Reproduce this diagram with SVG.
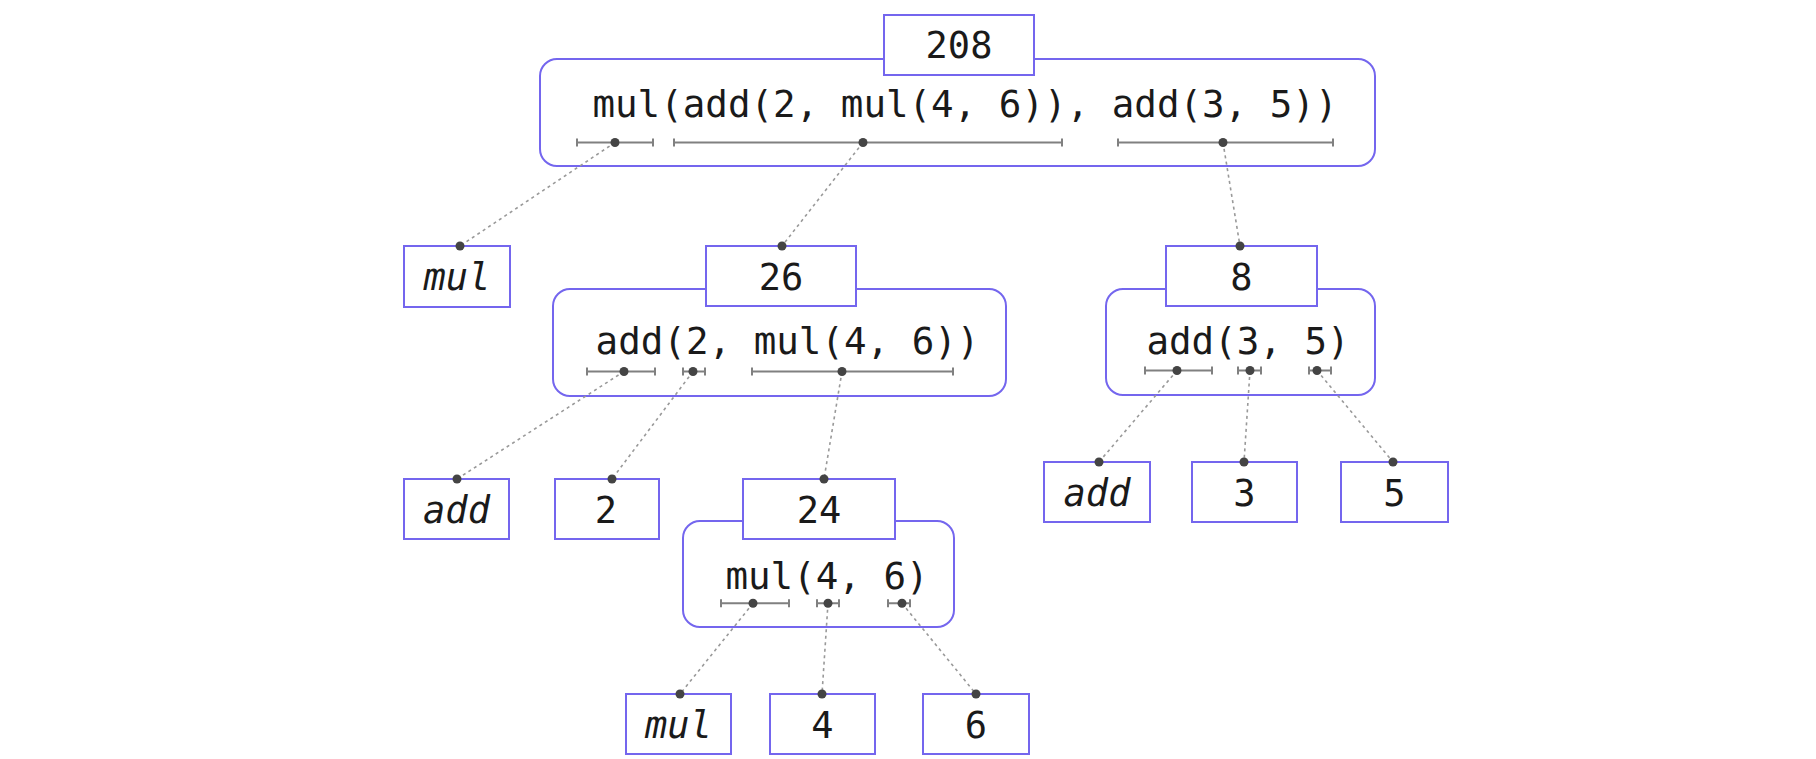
<svg xmlns="http://www.w3.org/2000/svg" width="1816" height="759" viewBox="0 0 1816 759">
<style>
  .frame { fill: none; stroke: #7466ee; stroke-width: 2; }
  .box { fill: #ffffff; stroke: #7466ee; stroke-width: 2; }
  .expr { font-family: "DejaVu Sans Mono", monospace; font-size: 37.5px; fill: #1a1a1a; text-anchor: middle; }
  .val { font-family: "DejaVu Sans Mono", monospace; font-size: 37px; fill: #1a1a1a; text-anchor: middle; }
  .op { font-style: italic; }
  .span { stroke: #808080; stroke-width: 2; fill: none; }
  .dot { fill: #444444; }
  .conn { stroke: #999999; stroke-width: 1.6; stroke-dasharray: 3 3.5; fill: none; }
</style>
<rect width="1816" height="759" fill="#ffffff"/>

<g id="node-208">
  <rect class="frame" x="540" y="59" width="835" height="107" rx="17"/>
  <rect class="box" x="884" y="15" width="150" height="60"/>
  <text class="val" x="959" y="58">208</text>
  <text class="expr" x="965" y="117">mul(add(2, mul(4, 6)), add(3, 5))</text>
  <path class="span" d="M577 142.5H653M577 138.5V146.5M653 138.5V146.5"/>
  <path class="span" d="M674 142.5H1062M674 138.5V146.5M1062 138.5V146.5"/>
  <path class="span" d="M1118 142.5H1333M1118 138.5V146.5M1333 138.5V146.5"/>
</g>

<g id="leaf-mul-1">
  <rect class="box" x="404" y="246" width="106" height="61"/>
  <text class="val op" x="457" y="290">mul</text>
</g>

<g id="node-26">
  <rect class="frame" x="553" y="289" width="453" height="107" rx="17"/>
  <rect class="box" x="706" y="246" width="150" height="60"/>
  <text class="val" x="781" y="290">26</text>
  <text class="expr" x="787.5" y="354">add(2, mul(4, 6))</text>
  <path class="span" d="M587 371.5H655M587 367.5V375.5M655 367.5V375.5"/>
  <path class="span" d="M683 371.5H705M683 367.5V375.5M705 367.5V375.5"/>
  <path class="span" d="M752 371.5H953M752 367.5V375.5M953 367.5V375.5"/>
</g>

<g id="node-8">
  <rect class="frame" x="1106" y="289" width="269" height="106" rx="17"/>
  <rect class="box" x="1166" y="246" width="151" height="60"/>
  <text class="val" x="1241.5" y="290">8</text>
  <text class="expr" x="1248" y="354">add(3, 5)</text>
  <path class="span" d="M1145 370.5H1212M1145 366.5V374.5M1212 366.5V374.5"/>
  <path class="span" d="M1238 370.5H1261M1238 366.5V374.5M1261 366.5V374.5"/>
  <path class="span" d="M1309 370.5H1331M1309 366.5V374.5M1331 366.5V374.5"/>
</g>

<g id="leaf-add-1">
  <rect class="box" x="404" y="479" width="105" height="60"/>
  <text class="val op" x="456.5" y="522.5">add</text>
</g>

<g id="leaf-2">
  <rect class="box" x="555" y="479" width="104" height="60"/>
  <text class="val" x="606" y="522.5">2</text>
</g>

<g id="node-24">
  <rect class="frame" x="683" y="521" width="271" height="106" rx="17"/>
  <rect class="box" x="743" y="479" width="152" height="60"/>
  <text class="val" x="819" y="522.5">24</text>
  <text class="expr" x="827" y="589">mul(4, 6)</text>
  <path class="span" d="M721 603.3H789M721 599.3V607.3M789 599.3V607.3"/>
  <path class="span" d="M817 603.3H839M817 599.3V607.3M839 599.3V607.3"/>
  <path class="span" d="M888 603.3H910M888 599.3V607.3M910 599.3V607.3"/>
</g>

<g id="leaf-add-2">
  <rect class="box" x="1044" y="462" width="106" height="60"/>
  <text class="val op" x="1097" y="505.5">add</text>
</g>

<g id="leaf-3">
  <rect class="box" x="1192" y="462" width="105" height="60"/>
  <text class="val" x="1244.5" y="505.5">3</text>
</g>

<g id="leaf-5">
  <rect class="box" x="1341" y="462" width="107" height="60"/>
  <text class="val" x="1394.5" y="505.5">5</text>
</g>

<g id="leaf-mul-2">
  <rect class="box" x="626" y="694" width="105" height="60"/>
  <text class="val op" x="678.5" y="737.5">mul</text>
</g>

<g id="leaf-4">
  <rect class="box" x="770" y="694" width="105" height="60"/>
  <text class="val" x="822.5" y="737.5">4</text>
</g>

<g id="leaf-6">
  <rect class="box" x="923" y="694" width="106" height="60"/>
  <text class="val" x="976" y="737.5">6</text>
</g>

<g id="connectors">
  <path class="conn" d="M615 142.5L460 246"/>
  <path class="conn" d="M863 142.5L782 246"/>
  <path class="conn" d="M1223 142.5L1240 246"/>
  <path class="conn" d="M624 371.5L457 479"/>
  <path class="conn" d="M693 371.5L612 479"/>
  <path class="conn" d="M842 371.5L824 479"/>
  <path class="conn" d="M1177 370.5L1099 462"/>
  <path class="conn" d="M1250 370.5L1244 462"/>
  <path class="conn" d="M1317 370.5L1393 462"/>
  <path class="conn" d="M753 603.3L680 694"/>
  <path class="conn" d="M828 603.3L822 694"/>
  <path class="conn" d="M902 603.3L976 694"/>
  <g class="dot">
    <circle cx="615" cy="142.5" r="4.5"/>
    <circle cx="863" cy="142.5" r="4.5"/>
    <circle cx="1223" cy="142.5" r="4.5"/>
    <circle cx="624" cy="371.5" r="4.5"/>
    <circle cx="693" cy="371.5" r="4.5"/>
    <circle cx="842" cy="371.5" r="4.5"/>
    <circle cx="1177" cy="370.5" r="4.5"/>
    <circle cx="1250" cy="370.5" r="4.5"/>
    <circle cx="1317" cy="370.5" r="4.5"/>
    <circle cx="753" cy="603.3" r="4.5"/>
    <circle cx="828" cy="603.3" r="4.5"/>
    <circle cx="902" cy="603.3" r="4.5"/>
    <circle cx="460" cy="246" r="4.5"/>
    <circle cx="782" cy="246" r="4.5"/>
    <circle cx="1240" cy="246" r="4.5"/>
    <circle cx="457" cy="479" r="4.5"/>
    <circle cx="612" cy="479" r="4.5"/>
    <circle cx="824" cy="479" r="4.5"/>
    <circle cx="1099" cy="462" r="4.5"/>
    <circle cx="1244" cy="462" r="4.5"/>
    <circle cx="1393" cy="462" r="4.5"/>
    <circle cx="680" cy="694" r="4.5"/>
    <circle cx="822" cy="694" r="4.5"/>
    <circle cx="976" cy="694" r="4.5"/>
  </g>
</g>
</svg>
